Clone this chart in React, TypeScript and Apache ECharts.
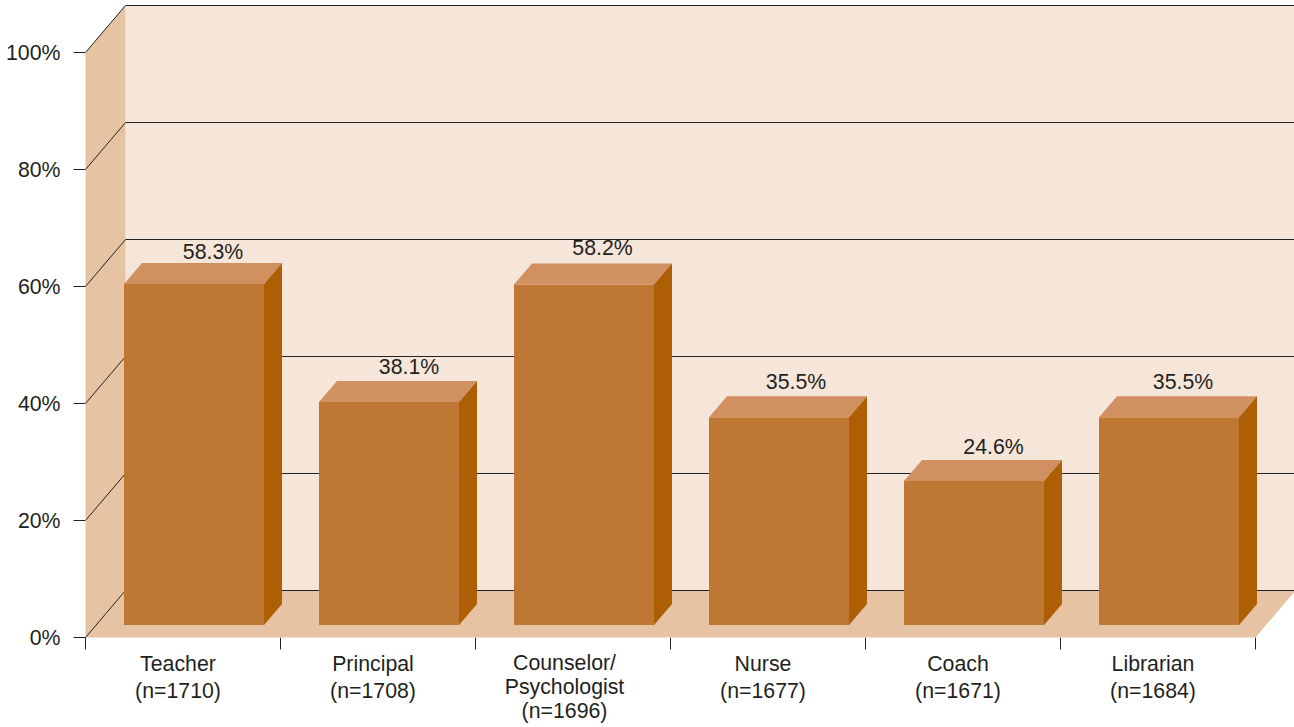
import React, { useEffect, useRef } from "react";
import * as echarts from "echarts";

const CATEGORIES = ["Teacher", "Principal", "Counselor/\nPsychologist", "Nurse", "Coach", "Librarian"];
const SAMPLE_SIZES = [1710, 1708, 1696, 1677, 1671, 1684];
const VALUES = [58.3, 38.1, 58.2, 35.5, 24.6, 35.5];
const Y_TICKS = [0, 20, 40, 60, 80, 100];
const LABEL_LIFT = [11, 14, 16, 14, 13, 14];
const LABEL_SHIFT = [0.5, 1.5, 0, -1.5, 1, -4.5];

const FONT = '"Liberation Sans", Arial, sans-serif';
const TEXT = "#231f20";
const WALL = "#f6e6da";
const SIDE = "#e6c3a2";
const FRONT = "#bf7833";
const TOP = "#d09060";
const SHADE = "#ae5e04";
const FONT_SIZE = 21.3;
const DEPTH_X = 40;
const DEPTH_Y = 47;
const W = 1294;
const H = 727;

export default function App() {
  const ref = useRef<HTMLDivElement>(null);
  useEffect(() => {
    const chart = echarts.init(ref.current!, undefined, { renderer: "svg" });
    chart.setOption({
      animation: false,
      backgroundColor: "#ffffff",
      grid: { left: 85.5, right: W - 1255.5, top: 52.5, bottom: H - 637.5 },
      xAxis: {
        type: "category",
        data: CATEGORIES.map((c, i) => ({
          value: `${c}\n(n=${SAMPLE_SIZES[i]})`,
          textStyle: c.includes("\n")
            ? { lineHeight: 24, padding: [0, 17, 0, 0] }
            : { lineHeight: 27 },
        })),
        axisLine: { show: false },
        axisTick: { show: true, length: 12, lineStyle: { color: "#222", width: 1 } },
        axisLabel: {
          interval: 0,
          margin: 13,
          padding: [0, 10, 0, 0],
          color: TEXT,
          fontFamily: FONT,
          fontSize: FONT_SIZE,
        },
      },
      yAxis: {
        type: "value",
        min: 0,
        max: 100,
        interval: 20,
        splitLine: { show: false },
        axisLine: { show: false },
        axisTick: { show: true, length: 12, lineStyle: { color: "#222", width: 1 } },
        axisLabel: {
          margin: 25,
          formatter: "{value}%",
          color: TEXT,
          fontFamily: FONT,
          fontSize: FONT_SIZE,
        },
      },
      series: [
        {
          type: "custom",
          silent: true,
          z: 1,
          data: [[0, 0]],
          renderItem: (params: any) => {
            const c = params.coordSys;
            const l = c.x, r = c.x + c.width, t = c.y, b = c.y + c.height;
            return {
              type: "group",
              children: [
                { type: "polygon", shape: { points: [[l + DEPTH_X, t - DEPTH_Y], [W + 1, t - DEPTH_Y], [W + 1, b - DEPTH_Y], [l + DEPTH_X, b - DEPTH_Y]] }, style: { fill: WALL } },
                { type: "polygon", shape: { points: [[l, t], [l + DEPTH_X, t - DEPTH_Y], [l + DEPTH_X, b - DEPTH_Y], [l, b]] }, style: { fill: SIDE } },
                { type: "polygon", shape: { points: [[l, b], [l + DEPTH_X, b - DEPTH_Y], [r + DEPTH_X, b - DEPTH_Y], [r, b]] }, style: { fill: SIDE } },
              ],
            };
          },
        },
        {
          type: "custom",
          silent: true,
          z: 2,
          data: Y_TICKS.map((v) => [0, v]),
          renderItem: (params: any, api: any) => {
            const c = params.coordSys;
            const y = api.coord([0, api.value(1)])[1];
            return {
              type: "polyline",
              shape: { points: [[c.x, y], [c.x + DEPTH_X, y - DEPTH_Y], [W + 1, y - DEPTH_Y]] },
              style: { stroke: "#222", lineWidth: 1, fill: "none" },
            };
          },
        },
        {
          type: "custom",
          silent: true,
          z: 3,
          data: VALUES.map((v, i) => [i, v]),
          renderItem: (_params: any, api: any) => {
            const i = api.value(0);
            const v = api.value(1);
            const k = api.size([1, 0])[0] / 195;
            const cx = api.coord([i, 0])[0] + 11 * k;
            const base = api.coord([i, 0])[1] - 12.5;
            const top = api.coord([i, v])[1] - 12.5;
            const l = cx - 70 * k;
            const r = cx + 70 * k;
            const dx = 18 * k;
            const dy = 21;
            return {
              type: "group",
              children: [
                { type: "polygon", shape: { points: [[l, top], [r, top], [r, base], [l, base]] }, style: { fill: FRONT } },
                { type: "polygon", shape: { points: [[l, top], [l + dx, top - dy], [r + dx, top - dy], [r, top]] }, style: { fill: TOP } },
                { type: "polygon", shape: { points: [[r, top], [r + dx, top - dy], [r + dx, base - dy], [r, base]] }, style: { fill: SHADE } },
                {
                  type: "text",
                  x: cx + 18.5 * k + LABEL_SHIFT[i],
                  y: top - dy - LABEL_LIFT[i],
                  style: {
                    text: `${v.toFixed(1)}%`,
                    fill: TEXT,
                    fontFamily: FONT,
                    fontSize: FONT_SIZE,
                    textAlign: "center",
                    textVerticalAlign: "middle",
                  },
                },
              ],
            };
          },
        },
      ],
    });
    return () => chart.dispose();
  }, []);
  return <div ref={ref} style={{ position: "absolute", left: 0, top: 0, width: W, height: H }} />;
}
